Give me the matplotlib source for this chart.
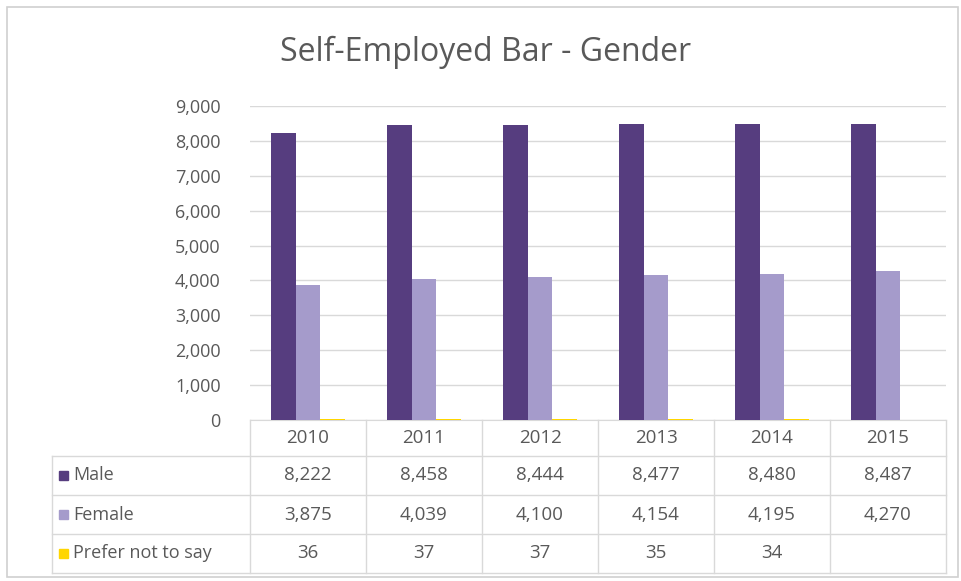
import matplotlib.pyplot as plt
import numpy as np
from matplotlib.patches import Rectangle

plt.rcParams['font.family'] = ['Open Sans', 'DejaVu Sans']

years = ["2010", "2011", "2012", "2013", "2014", "2015"]
male = [8222, 8458, 8444, 8477, 8480, 8487]
female = [3875, 4039, 4100, 4154, 4195, 4270]
prefer = [36, 37, 37, 35, 34, np.nan]
series_names = ["Male", "Female", "Prefer not to say"]
series_colors = ["#563d7f", "#a59bcb", "#ffd600"]
yticks = list(range(0, 9001, 1000))

W, H = 962, 581
TXT = "#595959"
GRID = "#d9d9d9"

fig = plt.figure(figsize=(W / 100, H / 100), dpi=100)


def fx(px):
    return px / W


def fy(py):
    return 1 - py / H


# plot area in pixel coordinates
x0, x1, ytop, ybase = 250, 946, 106, 420
ax = fig.add_axes([fx(x0), fy(ybase), fx(x1 - x0), (ybase - ytop) / H])

x = np.arange(len(years))
w = 0.215
for i, (vals, c) in enumerate(zip([male, female, prefer], series_colors)):
    ax.bar(x + (i - 1) * w, vals, w, color=c, zorder=3)

ax.set_xlim(-0.5, len(years) - 0.5)
ax.set_ylim(0, 9000)
ax.set_yticks(yticks)
ax.set_yticklabels([f"{v:,}" for v in yticks], color=TXT, fontsize=13)
ax.set_xticks([])
ax.tick_params(axis="y", length=0, pad=21)
ax.grid(axis="y", color=GRID, lw=1, zorder=0)
for s in ["top", "right", "left"]:
    ax.spines[s].set_visible(False)
ax.spines["bottom"].set_color(GRID)

fig.text(0.505, fy(52), "Self-Employed Bar - Gender", ha="center", va="center",
         fontsize=23, color=TXT)

# data table below the plot
rows = [ybase, 456, 495, 534, 573]
cols = np.linspace(x0, x1, len(years) + 1)
left = 52
line_kw = dict(color=GRID, lw=1, transform=fig.transFigure)
for r in rows[1:]:
    fig.add_artist(plt.Line2D([fx(left), fx(x1)], [fy(r), fy(r)], **line_kw))
for c in cols:
    fig.add_artist(plt.Line2D([fx(c), fx(c)], [fy(rows[0]), fy(rows[-1])], **line_kw))
fig.add_artist(plt.Line2D([fx(left), fx(left)], [fy(rows[1]), fy(rows[-1])], **line_kw))

for j, yr in enumerate(years):
    cx = (cols[j] + cols[j + 1]) / 2
    fig.text(fx(cx), fy((rows[0] + rows[1]) / 2), yr, ha="center", va="center",
             fontsize=13.5, color=TXT)

for k, (name, vals, c) in enumerate(zip(series_names, [male, female, prefer], series_colors)):
    cy = (rows[k + 1] + rows[k + 2]) / 2
    fig.add_artist(Rectangle((fx(59), fy(cy + 4.5)), fx(9), 9 / H, color=c,
                             transform=fig.transFigure))
    fig.text(fx(73), fy(cy), name, ha="left", va="center", fontsize=13, color=TXT)
    for j, v in enumerate(vals):
        if np.isnan(v):
            continue
        cx = (cols[j] + cols[j + 1]) / 2
        fig.text(fx(cx), fy(cy), f"{int(v):,}", ha="center", va="center",
                 fontsize=13.5, color=TXT)

# outer chart border
fig.add_artist(Rectangle((fx(7), fy(577)), fx(951), 570 / H, fill=False,
                         edgecolor="#d0d0d0", lw=1.2, transform=fig.transFigure))

fig.savefig("out.png", dpi=100)
